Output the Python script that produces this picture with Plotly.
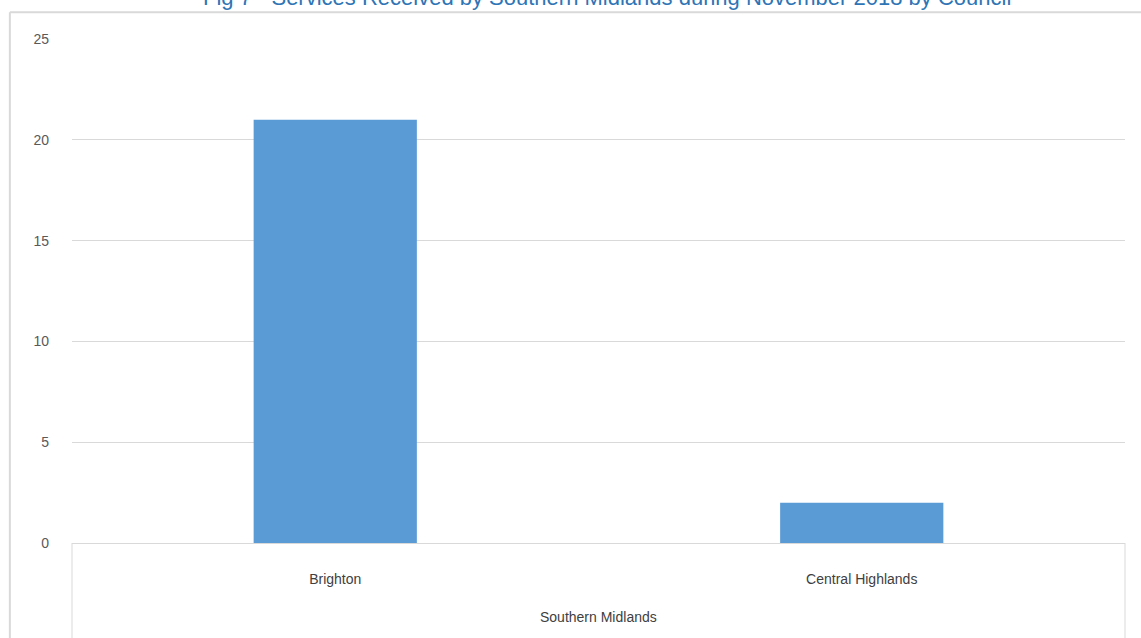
import plotly.graph_objects as go

group = ["Southern Midlands"]
councils = ["Brighton", "Central Highlands"]
services = [21, 2]
y_ticks = [0, 5, 10, 15, 20, 25]
title_text = "Fig 7 - Services Received by Southern Midlands during November 2018 by Council"

font_fam = "Liberation Sans Narrow, Arial Narrow, Liberation Sans, sans-serif"

fig = go.Figure()
fig.add_trace(go.Bar(
    x=councils,
    y=services,
    marker=dict(color="#5b9bd5", line=dict(width=0)),
    width=0.31,
))

fig.update_layout(
    width=1141, height=638,
    margin=dict(l=72, r=16, t=39, b=95),
    paper_bgcolor="white", plot_bgcolor="white",
    showlegend=False,
    font=dict(family=font_fam, size=14, color="#595959"),
    xaxis=dict(
        type="category",
        showline=True, linecolor="#d9d9d9", linewidth=1,
        ticks="", tickfont=dict(size=14, color="#404040"),
        showgrid=False, ticklabelstandoff=23,
    ),
    yaxis=dict(
        range=[0, 25], tickvals=y_ticks,
        showgrid=True, gridcolor="#d9d9d9", gridwidth=1,
        zeroline=False, showline=False, ticks="",
        tickfont=dict(size=14, color="#595959"),
        ticklabelstandoff=22,
    ),
    annotations=[
        dict(
            text=title_text, xref="paper", yref="paper",
            x=0.508, y=1, yshift=27, xanchor="center", yanchor="bottom",
            showarrow=False, font=dict(size=22, color="#2e75b6", family=font_fam),
        ),
        dict(
            text=group[0], xref="paper", yref="paper",
            x=0.5, y=0, yshift=-74, xanchor="center", yanchor="middle",
            showarrow=False, font=dict(size=14, color="#404040", family=font_fam),
        ),
    ],
    shapes=[
        dict(type="line", xref="paper", yref="paper", x0=-0.059, x1=1.05, y0=1.053, y1=1.053,
             line=dict(color="#d9d9d9", width=2)),
        dict(type="line", xref="paper", yref="paper", x0=-0.059, x1=-0.059, y0=1.053, y1=-0.3,
             line=dict(color="#d9d9d9", width=2)),
        dict(type="line", xref="paper", yref="paper", x0=0, x1=0, y0=0, y1=-0.3,
             line=dict(color="#d9d9d9", width=1)),
        dict(type="line", xref="paper", yref="paper", x0=1, x1=1, y0=0, y1=-0.3,
             line=dict(color="#d9d9d9", width=1)),
    ],
)

fig.write_html("out.html")
